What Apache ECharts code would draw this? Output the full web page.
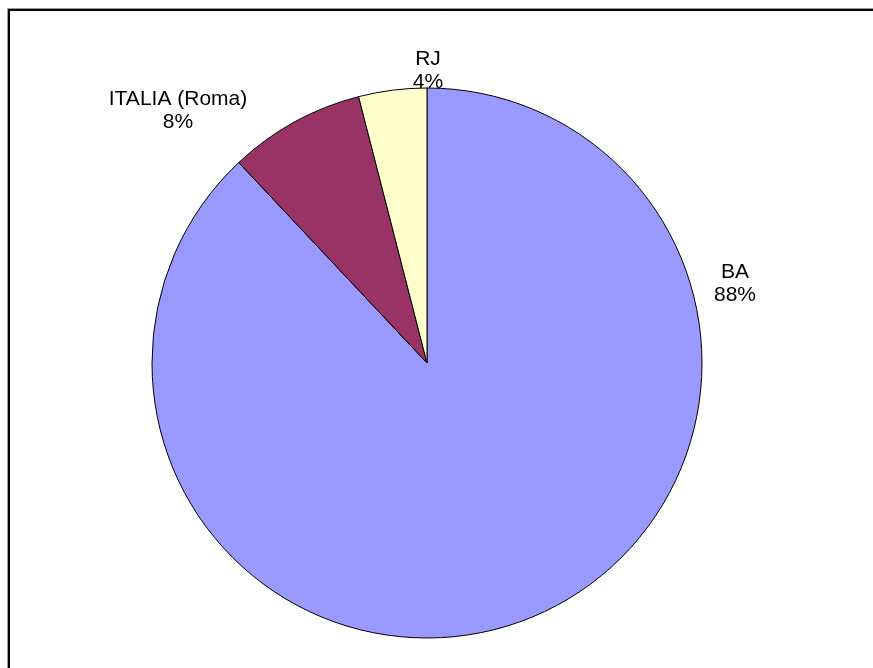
<!DOCTYPE html>
<html>
<head>
<meta charset="utf-8">
<script src="https://cdn.jsdelivr.net/npm/echarts@6/dist/echarts.min.js"></script>
<style>
  html, body { margin: 0; padding: 0; background: #fff; }
  #main { width: 873px; height: 668px; }
</style>
</head>
<body>
<div id="main"></div>
<script>
var names = ["BA", "ITALIA (Roma)", "RJ"];
var values = [22, 2, 1];
var colors = ["#9999FF", "#993366", "#FFFFCC"];

// label anchor points (layout only)
var labelSpots = [[735, 284], [178, 111], [428, 71]];

var chart = echarts.init(document.getElementById("main"));
chart.setOption({
    animation: false,
    graphic: [
        { type: "rect", shape: { x: 7.5, y: 8.5, width: 900, height: 700 },
          style: { fill: "none", stroke: "#999", lineWidth: 1 } },
        { type: "rect", shape: { x: 9, y: 10, width: 900, height: 700 },
          style: { fill: "none", stroke: "#000", lineWidth: 2 } }
    ],
    series: [{
        type: "pie",
        center: [427, 363],
        radius: 275,
        startAngle: 90,
        clockwise: true,
        itemStyle: { borderColor: "#000", borderWidth: 1 },
        label: {
            show: true,
            color: "#000",
            fontFamily: "Liberation Sans, Arial, sans-serif",
            fontSize: 21,
            lineHeight: 23,
            align: "center",
            formatter: function (p) { return p.name + "\n" + Math.round(p.percent) + "%"; }
        },
        labelLine: { show: false },
        labelLayout: function (p) {
            var s = labelSpots[p.dataIndex];
            return { x: s[0], y: s[1], align: "center", verticalAlign: "middle" };
        },
        data: names.map(function (n, i) {
            return { name: n, value: values[i], itemStyle: { color: colors[i] } };
        })
    }]
});
</script>
</body>
</html>
